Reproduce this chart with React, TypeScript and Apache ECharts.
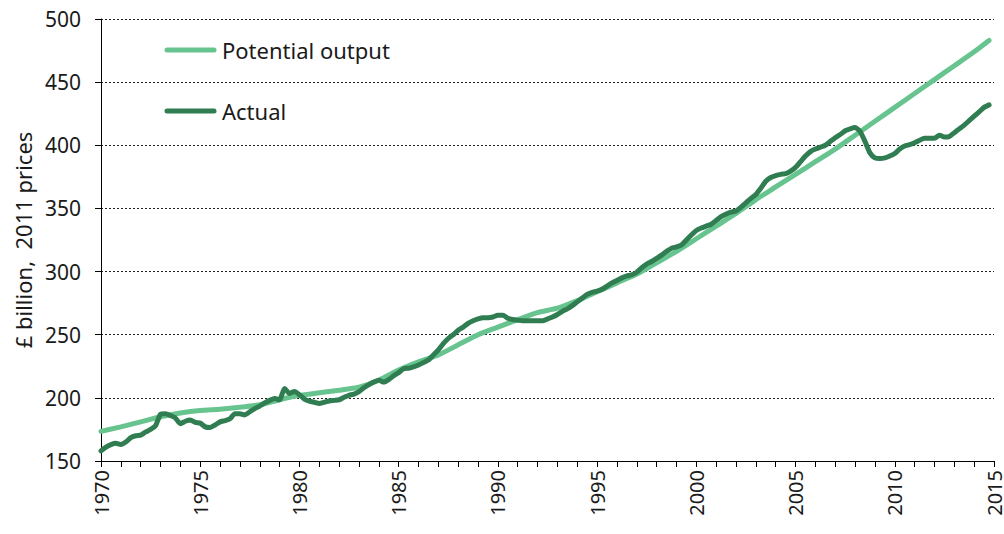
import React, { useEffect, useRef } from "react";
import * as echarts from "echarts";

// Actual GDP, quarterly from 1970 Q1 (£ billion, 2011 prices)
const actualStartYear = 1970;
const actualValues: number[] = [
  158, 161, 163, 164, // 1970
  163, 165, 168.5, 170, // 1971
  170.5, 173, 175, 178, // 1972
  187, 187.5, 186, 184, // 1973
  179.5, 181.5, 182.5, 180.5, // 1974
  180, 177, 176.5, 178.5, // 1975
  181, 182, 183.5, 187.5, // 1976
  187.5, 186.5, 189, 191.5, // 1977
  193.5, 196, 198, 199.5, // 1978
  198.5, 207.5, 203.5, 205, // 1979
  202.5, 199, 197.5, 196.5, // 1980
  195.5, 196.5, 197.5, 198, // 1981
  198.5, 200.5, 202, 203, // 1982
  205, 208, 210.5, 212.5, // 1983
  214, 212.5, 214.5, 217.5, // 1984
  220, 223, 223.5, 224.5, // 1985
  226, 228, 230, 234, // 1986
  238, 243, 247, 250, // 1987
  253.5, 256, 259, 261, // 1988
  262.5, 263.5, 263.5, 264, // 1989
  265.5, 265.5, 263, 262, // 1990
  261.5, 261, 261, 261, // 1991
  261, 261, 262.5, 264, // 1992
  266, 268.5, 270.5, 273, // 1993
  276, 279, 282, 283.5, // 1994
  284.5, 286, 288.5, 291, // 1995
  293, 295, 296.5, 297.5, // 1996
  299.5, 303, 306, 308, // 1997
  310.5, 313, 316, 318.5, // 1998
  319.5, 321, 325, 329, // 1999
  332.5, 334.5, 336, 337.5, // 2000
  340.5, 343.5, 345.5, 347, // 2001
  348, 351, 354.5, 358, // 2002
  361, 366, 371.5, 374.5, // 2003
  376, 377, 377.5, 379.5, // 2004
  382.5, 387, 391.5, 395, // 2005
  397, 398.5, 400, 403, // 2006
  406, 408.5, 411.5, 413, // 2007
  414, 411, 403, 394, // 2008
  390, 389.5, 390, 391.5, // 2009
  393.5, 397, 399.5, 400.5, // 2010
  402, 404, 405.5, 405.5, // 2011
  405.5, 408, 406.5, 407, // 2012
  410, 413, 416, 419.5, // 2013
  423, 426.5, 430, 432, // 2014
];

// Potential output
const potentialYears: number[] = [
  1970, 1971, 1972, 1973, 1974, 1975, 1976, 1977, 1978, 1979, 1980, 1981, 1982,
  1983, 1984, 1985, 1986, 1987, 1988, 1989, 1990, 1991, 1992, 1993, 1994, 1995,
  1996, 1997, 1998, 1999, 2000, 2001, 2002, 2003, 2004, 2005, 2006, 2007, 2008,
  2009, 2010, 2011, 2012, 2013, 2014, 2014.75,
];
const potentialValues: number[] = [
  173.5, 177, 181, 185, 188, 190, 191, 192.5, 194.5, 198.5, 202, 204, 206,
  208.5, 214, 222, 228.5, 234, 242, 250, 256, 262, 267.5, 271, 277, 284,
  291, 298, 307, 316, 326, 336, 346, 357, 367, 377, 387, 397, 408,
  419, 430, 441, 452, 463, 474, 483,
];

const seriesNames = ["Potential output", "Actual"];
const yAxisTitle = "£ billion,  2011 prices";

const COLOR_POT = "#67c48f";
const COLOR_ACT = "#2f7d51";
const FONT = "Noto Sans";
const TEXT = "#1a1a1a";

export default function App() {
  const ref = useRef<HTMLDivElement>(null);

  useEffect(() => {
    if (!ref.current) return;
    const chart = echarts.init(ref.current, null, { renderer: "svg" });
    const actualData = actualValues.map((v, i) => [actualStartYear + i / 4, v]);
    const potentialData = potentialYears.map((y, i) => [y, potentialValues[i]]);

    chart.setOption({
      animation: false,
      backgroundColor: "#ffffff",
      grid: { left: 101, right: 10, top: 19, bottom: 73, containLabel: false },
      xAxis: {
        type: "value",
        min: 1970,
        max: 2015,
        interval: 5,
        axisLine: { show: true, onZero: false, lineStyle: { color: "#000", width: 1 } },
        axisTick: { show: true, length: 6, lineStyle: { color: "#000" } },
        minorTick: { show: true, splitNumber: 5, length: 6, lineStyle: { color: "#000" } },
        splitLine: { show: false },
        axisLabel: {
          rotate: 90,
          margin: 9,
          fontFamily: FONT,
          fontSize: 20,
          lineHeight: 16,
          color: TEXT,
          formatter: (v: number) => String(v),
        },
      },
      yAxis: {
        type: "value",
        min: 150,
        max: 500,
        interval: 50,
        name: yAxisTitle,
        nameLocation: "middle",
        nameGap: 63,
        nameTextStyle: { fontFamily: FONT, fontSize: 22, color: TEXT },
        axisLine: { show: true, lineStyle: { color: "#000", width: 1 } },
        axisTick: { show: true, length: 6, lineStyle: { color: "#000" } },
        splitLine: {
          show: true,
          lineStyle: { color: "#222", width: 1, type: [2, 2] },
        },
        axisLabel: {
          margin: 20,
          fontFamily: FONT,
          fontSize: 21,
          color: TEXT,
        },
      },
      graphic: [
        {
          type: "line",
          shape: { x1: 167, y1: 50, x2: 214, y2: 50 },
          style: { stroke: COLOR_POT, lineWidth: 5, lineCap: "round" },
        },
        {
          type: "text",
          x: 222,
          y: 50,
          style: {
            text: seriesNames[0],
            fontFamily: FONT,
            fontSize: 22,
            fill: TEXT,
            verticalAlign: "middle",
          },
        },
        {
          type: "line",
          shape: { x1: 167, y1: 111, x2: 214, y2: 111 },
          style: { stroke: COLOR_ACT, lineWidth: 5, lineCap: "round" },
        },
        {
          type: "text",
          x: 222,
          y: 111,
          style: {
            text: seriesNames[1],
            fontFamily: FONT,
            fontSize: 22,
            fill: TEXT,
            verticalAlign: "middle",
          },
        },
      ],
      series: [
        {
          name: seriesNames[0],
          type: "line",
          data: potentialData,
          showSymbol: false,
          smooth: 0.2,
          lineStyle: { color: COLOR_POT, width: 5, cap: "round", join: "round" },
          z: 2,
        },
        {
          name: seriesNames[1],
          type: "line",
          data: actualData,
          showSymbol: false,
          smooth: 0.2,
          lineStyle: { color: COLOR_ACT, width: 5, cap: "round", join: "round" },
          z: 3,
        },
      ],
    });
    return () => chart.dispose();
  }, []);

  return (
    <div
      ref={ref}
      style={{ position: "absolute", left: 0, top: 0, width: 1004, height: 534 }}
    />
  );
}
